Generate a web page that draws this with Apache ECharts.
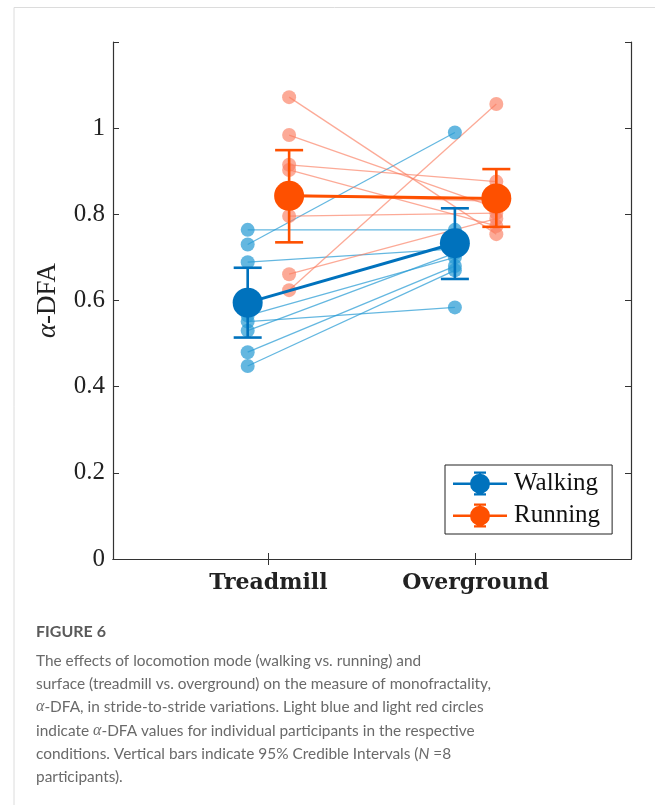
<!DOCTYPE html>
<html>
<head>
<meta charset="utf-8">
<script src="https://cdn.jsdelivr.net/npm/echarts@6/dist/echarts.min.js"></script>
<style>
  html, body { margin: 0; padding: 0; background: #fff; }
  #chart { width: 655px; height: 805px; }
</style>
</head>
<body>
<div id="chart"></div>
<script>
// conditions on the x axis
var conditions = ['Treadmill', 'Overground']

// individual participants (N = 8), alpha-DFA
var walkTread = [0.764, 0.730, 0.689, 0.565, 0.551, 0.530, 0.480, 0.448]
var walkOver = [0.764, 0.990, 0.720, 0.700, 0.584, 0.710, 0.680, 0.670]
var runTread = [1.072, 0.984, 0.915, 0.903, 0.845, 0.796, 0.661, 0.624]
var runOver = [0.754, 0.815, 0.876, 0.773, 0.830, 0.803, 0.790, 1.056]

// means and 95% credible intervals
var walkMean = [0.595, 0.733]
var walkLow = [0.514, 0.650]
var walkHigh = [0.676, 0.814]
var runMean = [0.843, 0.837]
var runLow = [0.735, 0.771]
var runHigh = [0.949, 0.905]

var BLUE = '#0072bd'
var RED = '#fe5000'
var LIGHT_BLUE = 'rgba(40,155,212,0.72)'
var LIGHT_RED = 'rgba(250,125,95,0.65)'
var SERIF = '"Liberation Serif", "DejaVu Serif", serif'
var SANS = 'Lato, "Noto Sans", sans-serif'
var OFFSET = 0.1 // walking left, running right of each category

var myChart = echarts.init(document.getElementById('chart'))

// 图例图标: 横线 + 圆点 + 误差棒
var legendIcon = 'path://M0 11h54v2.4h-54Z' +
  'M17 12.2a10 10 0 1 1 20 0a10 10 0 1 1 -20 0Z' +
  'M26 0h2v24h-2Z' +
  'M21 0h12v2.2h-12Z' +
  'M21 21.8h12v2.2h-12Z'

function pairSeries(tread, over, shift, color) {
  return tread.map(function (v, i) {
    return {
      type: 'line',
      silent: true,
      z: 2,
      symbol: 'circle',
      symbolSize: 14,
      itemStyle: { color: color, borderWidth: 0 },
      lineStyle: { color: color, width: 1.3 },
      data: [[1 + shift, v], [2 + shift, over[i]]],
      animation: false,
    }
  })
}

function errorSeries(low, high, shift, color) {
  return {
    type: 'custom',
    silent: true,
    z: 5,
    data: low.map(function (l, i) { return [i + 1 + shift, l, high[i]] }),
    renderItem: function (params, api) {
      var lo = api.coord([api.value(0), api.value(1)])
      var hi = api.coord([api.value(0), api.value(2)])
      var half = 14
      var style = { stroke: color, lineWidth: 2.6 }
      return {
        type: 'group',
        children: [
          { type: 'line', shape: { x1: lo[0], y1: lo[1], x2: hi[0], y2: hi[1] }, style: style },
          { type: 'line', shape: { x1: lo[0] - half, y1: lo[1], x2: lo[0] + half, y2: lo[1] }, style: style },
          { type: 'line', shape: { x1: hi[0] - half, y1: hi[1], x2: hi[0] + half, y2: hi[1] }, style: style },
        ],
      }
    },
    animation: false,
  }
}

function meanSeries(name, mean, shift, color) {
  return {
    name: name,
    type: 'line',
    z: 6,
    symbol: 'circle',
    symbolSize: 30,
    itemStyle: { color: color },
    lineStyle: { color: color, width: 3 },
    data: mean.map(function (m, i) { return [i + 1 + shift, m] }),
    animation: false,
  }
}

var axisLine = { lineStyle: { color: '#333', width: 1.2 } }

var option = {
  backgroundColor: '#fff',
  grid: { left: 113, top: 42, width: 518, height: 517 },
  legend: {
    left: 445,
    top: 465,
    orient: 'vertical',
    backgroundColor: '#fff',
    borderColor: '#222',
    borderWidth: 1,
    padding: [6, 12, 6, 8],
    itemWidth: 54,
    itemHeight: 24,
    itemGap: 7,
    icon: legendIcon,
    textStyle: { fontFamily: SERIF, fontSize: 25, color: '#111', padding: [0, 0, 0, 2] },
    data: ['Walking', 'Running'],
  },
  xAxis: [
    {
      type: 'value',
      min: 0.25,
      max: 2.75,
      splitLine: { show: false },
      axisLine: axisLine,
      axisTick: { inside: true, length: 6, customValues: [1, 2], lineStyle: { color: '#333' } },
      axisLabel: {
        customValues: [1, 2],
        margin: 13,
        fontFamily: '"DejaVu Serif", serif',
        fontSize: 22,
        fontWeight: 'bold',
        color: '#222',
        formatter: function (v) { return conditions[Math.round(v) - 1] || '' },
      },
    },
    {
      type: 'value',
      position: 'top',
      min: 0.25,
      max: 2.75,
      splitLine: { show: false },
      axisLine: axisLine,
      axisTick: { inside: true, length: 6, customValues: [1, 2], lineStyle: { color: '#333' } },
      axisLabel: { show: false },
    },
  ],
  yAxis: [
    {
      type: 'value',
      min: 0,
      max: 1.2,
      interval: 0.2,
      splitLine: { show: false },
      axisLine: { show: true, lineStyle: { color: '#333', width: 1.2 } },
      axisTick: { inside: true, length: 6, lineStyle: { color: '#333' } },
      axisLabel: {
        margin: 8,
        fontFamily: SERIF,
        fontSize: 25,
        color: '#222',
        formatter: function (v) { return v > 1.1 ? '' : String(+v.toFixed(1)) },
      },
      name: '{a|α}-DFA',
      nameLocation: 'middle',
      nameGap: 52,
      nameTextStyle: {
        fontFamily: SERIF,
        fontSize: 27,
        color: '#222',
        rich: { a: { fontFamily: SERIF, fontStyle: 'italic', fontSize: 27, color: '#222' } },
      },
    },
    {
      type: 'value',
      position: 'right',
      min: 0,
      max: 1.2,
      interval: 0.2,
      splitLine: { show: false },
      axisLine: { show: true, lineStyle: { color: '#333', width: 1.2 } },
      axisTick: { inside: true, length: 6, lineStyle: { color: '#333' } },
      axisLabel: { show: false },
    },
  ],
  graphic: [
    // page frame
    { type: 'line', shape: { x1: 14, y1: 7.5, x2: 655, y2: 7.5 }, style: { stroke: '#dcdcdc', lineWidth: 1 } },
    { type: 'line', shape: { x1: 14, y1: 7.5, x2: 14, y2: 805 }, style: { stroke: '#dcdcdc', lineWidth: 1 } },
    // caption
    {
      type: 'text', left: 36, top: 624,
      style: { text: 'FIGURE 6', fontFamily: SANS, fontSize: 16, fontWeight: 'bold', fill: '#5a5a5a' },
    },
    {
      type: 'text', left: 36, top: 649,
      style: {
        text: [
          'The effects of locomotion mode (walking vs. running) and',
          'surface (treadmill vs. overground) on the measure of monofractality,',
          '{a|α}-DFA, in stride-to-stride variations. Light blue and light red circles',
          'indicate {a|α}-DFA values for individual participants in the respective',
          'conditions. Vertical bars indicate 95% Credible Intervals ({i|N} =8',
          'participants).',
        ].join('\n'),
        fontFamily: SANS,
        fontSize: 15.4,
        lineHeight: 23.3,
        fill: '#6a6a6a',
        rich: {
          a: { fontFamily: SERIF, fontStyle: 'italic', fontSize: 16, lineHeight: 23.3, fill: '#6a6a6a' },
          i: { fontFamily: SANS, fontStyle: 'italic', fontSize: 15.4, lineHeight: 23.3, fill: '#6a6a6a' },
        },
      },
    },
  ],
  series: []
    .concat(pairSeries(walkTread, walkOver, -OFFSET, LIGHT_BLUE))
    .concat(pairSeries(runTread, runOver, OFFSET, LIGHT_RED))
    .concat([
      errorSeries(walkLow, walkHigh, -OFFSET, BLUE),
      errorSeries(runLow, runHigh, OFFSET, RED),
      meanSeries('Walking', walkMean, -OFFSET, BLUE),
      meanSeries('Running', runMean, OFFSET, RED),
    ]),
}

myChart.setOption(option)
</script>
</body>
</html>
